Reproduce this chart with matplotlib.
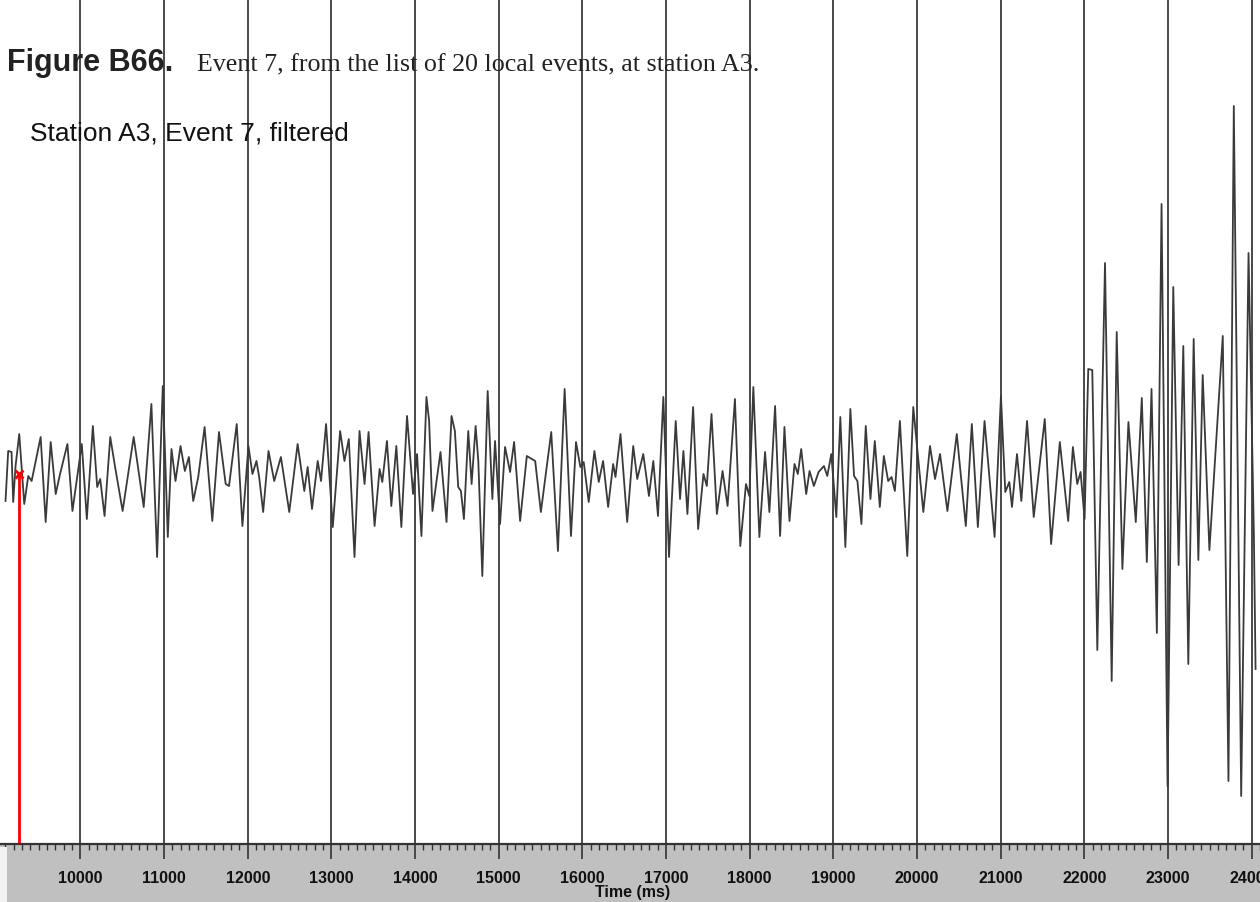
import matplotlib
matplotlib.use("Agg")
import matplotlib.pyplot as plt
from matplotlib.patches import Rectangle

# Trace picks (time in ms, amplitude in counts)
seg1_ms = [9104, 9136, 9176, 9196, 9224, 9268, 9328, 9376, 9416, 9524, 9584, 9644,
           9704, 9756, 9844, 9904, 10016, 10076, 10148, 10200, 10236, 10288, 10356,
           10408, 10504, 10636, 10756, 10848, 10916, 10984, 11044, 11088, 11136, 11196,
           11248, 11296, 11348, 11408, 11484, 11576, 11656, 11736, 11776, 11868, 11936,
           12008, 12056, 12104, 12136, 12184, 12248, 12316, 12396, 12496, 12596, 12676,
           12716, 12768, 12836, 12876, 12936, 13016, 13104, 13156, 13208, 13276, 13336,
           13396, 13444, 13516, 13576, 13608, 13664, 13716, 13776, 13836, 13904, 13976,
           14024]
seg1_amp = [-30, 20, 19, -31, 5, 37, -33, -5, -10, 34, -51, 29,
            -23, -3, 27, -40, 27, -48, 45, -16, -8, -45, 34,
            7, -40, 34, -36, 67, -86, 85, -66, 22, -10, 25,
            0, 14, -30, -6, 44, -50, 39, -13, -15, 47, -55,
            25, -3, 10, -6, -41, 20, -10, 14, -41, 27, -20,
            4, -38, 10, -10, 47, -56, 40, 10, 32, -86, 40,
            -13, 39, -55, 2, -11, 30, -35, 25, -56, 55, -23,
            17]

seg2_ms = [14076, 14136, 14168, 14208, 14304, 14376, 14436, 14476, 14516, 14548, 14584,
           14636, 14676, 14724, 14756, 14804, 14868, 14924, 14956, 15016, 15076, 15136,
           15184, 15256, 15336, 15396, 15436, 15504, 15628, 15708, 15788, 15864, 15924,
           15976, 16016, 16076, 16144, 16196, 16248, 16308, 16368, 16396, 16456, 16536,
           16608, 16656, 16728, 16796, 16848, 16904, 16968, 17036, 17116, 17168, 17208,
           17256, 17324, 17384, 17448, 17488, 17544, 17608, 17676, 17736, 17824, 17888,
           17956, 17996, 18044, 18116, 18184, 18236, 18304, 18364, 18416, 18476, 18536,
           18576, 18616, 18676, 18716, 18768, 18824, 18888, 18928, 18976, 19036, 19084]
seg2_amp = [-65, 74, 50, -40, 19, -51, 55, 40, -16, -20, -48,
            40, -13, 45, 10, -105, 80, -28, 30, -53, 24, -1,
            29, -50, 15, 12, 10, -41, 39, -80, 82, -65, 29,
            4, 9, -31, 20, -11, 10, -36, 7, -6, 37, -51,
            25, -8, 17, -25, 10, -45, 74, -86, 50, -28, 20,
            -43, 64, -58, -3, -15, 57, -43, 0, -35, 72, -75,
            -13, -25, 84, -66, 19, -41, 65, -65, 44, -50, 7,
            -3, 22, -23, 0, -15, -1, 5, -5, 17, -46, 54]

seg3_ms = [19144, 19204, 19248, 19288, 19336, 19388, 19444, 19496, 19556, 19604, 19656,
           19696, 19736, 19796, 19884, 19956, 20076, 20156, 20216, 20276, 20364, 20476,
           20584, 20656, 20728, 20808, 20928, 21004, 21056, 21104, 21136, 21196, 21248,
           21316, 21396, 21528, 21604, 21708, 21808, 21864, 21916, 21956]
seg3_amp = [-76, 62, -5, -10, -53, 45, -28, 30, -36, 15, -10,
            -6, -20, 50, -85, 64, -41, 25, -8, 17, -40, 37,
            -55, 47, -56, 50, -66, 75, -21, -11, -36, 17, -30,
            50, -46, 52, -73, 29, -50, 24, -13, -1]

seg4_ms = [22004, 22048, 22096, 22156, 22248, 22328, 22388, 22456, 22528, 22616, 22688,
           22748, 22804, 22868, 22924, 22996, 23064, 23128, 23184, 23244, 23308, 23364,
           23416, 23496, 23656, 23724, 23788, 23876, 23964, 24028, 24048]
seg4_amp = [-48, 102, 101, -179, 208, -210, 139, -98, 49, -51, 73,
            -91, 82, -162, 267, -315, 184, -94, 125, -193, 132, -89,
            96, -79, 135, -310, 365, -325, 218, -65, -198]

pick_ms = 9265      # red P pick
pick_amp = -3

grid_ms = list(range(10000, 25000, 1000))
tick_labels = [str(t) for t in grid_ms]
minor_ms = list(range(9100, 24200, 100))

trace_ms = seg1_ms + seg2_ms + seg3_ms + seg4_ms
trace_amp = seg1_amp + seg2_amp + seg3_amp + seg4_amp

W, H = 1260, 903
ruler_h = 58
fig = plt.figure(figsize=(W / 100, H / 100), dpi=100)
fig.patch.set_facecolor("white")

xlim = (9038, 24101)

# main trace panel
ax = fig.add_axes([0, ruler_h / H, 1, 1 - ruler_h / H])
ax.set_xlim(*xlim)
ax.set_ylim(-373, 472)
ax.axis("off")
for t in grid_ms:
    ax.axvline(t, color="#2a2a2a", lw=1.2, zorder=1)
ax.plot(trace_ms, trace_amp, color="#3a3a3a", lw=1.3, zorder=3)
ax.plot([pick_ms, pick_ms], [-373, pick_amp], color="red", lw=2, zorder=4)
ax.plot([pick_ms], [pick_amp], marker="x", color="red", ms=6, mew=2, zorder=5)

# time ruler
rax = fig.add_axes([0, 0, 1, ruler_h / H])
rax.set_xlim(*xlim)
rax.set_ylim(0, 1)
rax.set_facecolor("#c0c0c0")
for s in ["left", "right", "bottom"]:
    rax.spines[s].set_visible(False)
rax.spines["top"].set_color("#333333")
rax.spines["top"].set_linewidth(1.6)
rax.set_yticks([])
rax.xaxis.set_ticks_position("top")
rax.set_xticks(grid_ms)
rax.set_xticks(minor_ms, minor=True)
rax.tick_params(axis="x", which="major", direction="in", length=10.5, width=1.2,
                color="#333333", labeltop=False, labelbottom=False)
rax.tick_params(axis="x", which="minor", direction="in", length=4.5, width=1.0,
                color="#333333")
for t, lab in zip(grid_ms, tick_labels):
    rax.text(t, 0.34, lab, ha="center", va="baseline", fontsize=11.5,
             fontweight="bold", family="Liberation Sans", color="#111111")
rax.text(16000 + 600, 0.11, "Time (ms)", ha="center", va="baseline", fontsize=11.5,
         fontweight="bold", family="Liberation Sans", color="#111111")
fig.patches.append(Rectangle((0, 0), 7 / W, ruler_h / H - 0.003,
                             transform=fig.transFigure, facecolor="#f2f2f2",
                             edgecolor="none", zorder=5))

# captions
fig.text(7 / W, 1 - 71 / H, "Figure B66.", fontsize=22, fontweight="bold",
         family="Liberation Sans", color="#222222", va="baseline")
fig.text(197 / W, 1 - 71 / H, "Event 7, from the list of 20 local events, at station A3.",
         fontsize=18.7, family="Liberation Serif", color="#222222", va="baseline")
fig.text(30 / W, 1 - 140 / H, "Station A3, Event 7, filtered", fontsize=19,
         family="Liberation Sans", color="#111111", va="baseline")

fig.savefig("out.png", dpi=100)
